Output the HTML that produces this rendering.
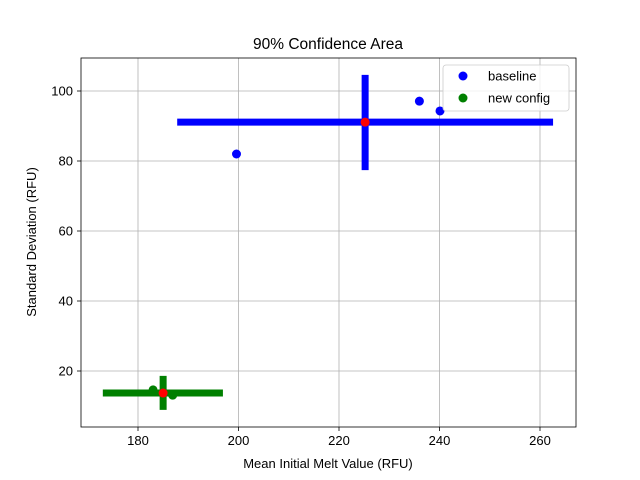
<!DOCTYPE html>
<html><head><meta charset="utf-8"><style>body{margin:0;background:#fff}svg{display:block;font-family:"Liberation Sans",sans-serif}</style></head>
<body>
<svg width="640" height="480" id="c">
<rect x="0" y="0" width="640" height="480" fill="#fff"/>
<g id="grid"></g><g id="marks"></g><g id="axes"></g>
</svg>
<script>
const xTicks=[180,200,220,240,260];
const yTicks=[20,40,60,80,100];
const baselinePts=[[199.6,82],[236.0,97.1],[240.1,94.3]];
const baselineMean=[225.2,91.1];
const baselineXRange=[187.8,262.6];
const baselineYRange=[77.4,104.6];
const newPts=[[183.0,14.6],[186.9,13.1],[185.0,13.7]];
const newMean=[185.0,13.7];
const newXRange=[173.0,196.9];
const newYRange=[8.9,18.6];
const L=81,R=576,T=58,B=427;
const sx=v=>138+(v-180)*5.025;
const sy=v=>371-(v-20)*3.5;
const NS='http://www.w3.org/2000/svg';
function mk(p,tag,a,txt){const e=document.createElementNS(NS,tag);for(const k in a)e.setAttribute(k,a[k]);if(txt!==undefined)e.textContent=txt;p.appendChild(e);return e;}
const g=document.getElementById('grid'),m=document.getElementById('marks'),ax=document.getElementById('axes');
xTicks.forEach(t=>{const x=sx(t);
 let e=mk(g,'line',{x1:x,x2:x,y1:T,y2:B,stroke:'#b0b0b0','stroke-width':0.8});
 
 
 mk(ax,'line',{x1:x,x2:x,y1:B,y2:B+4,stroke:'#000','stroke-width':0.8});
 e=mk(ax,'text',{x:x,y:B+18,'text-anchor':'middle','font-size':13},t);
 
 });
yTicks.forEach(t=>{const y=sy(t);
 let e=mk(g,'line',{x1:L,x2:R,y1:y,y2:y,stroke:'#b0b0b0','stroke-width':0.8});
 
 
 mk(ax,'line',{x1:L-4,x2:L,y1:y,y2:y,stroke:'#000','stroke-width':0.8});
 e=mk(ax,'text',{x:L-8,y:y+4.5,'text-anchor':'end','font-size':13},t);
 
 });
function group(pts,mean,xr,yr,col,name){
 let e=mk(m,'line',{x1:sx(xr[0]),x2:sx(xr[1]),y1:sy(mean[1]),y2:sy(mean[1]),stroke:col,'stroke-width':7});
 
 
 e=mk(m,'line',{x1:sx(mean[0]),x2:sx(mean[0]),y1:sy(yr[0]),y2:sy(yr[1]),stroke:col,'stroke-width':7});
 
 
 pts.forEach(p=>{e=mk(m,'circle',{cx:sx(p[0]),cy:sy(p[1]),r:4.5,fill:col});
  
  });
 e=mk(m,'circle',{cx:sx(mean[0]),cy:sy(mean[1]),r:4.5,fill:'#ff0000'});
 
 }
group(baselinePts,baselineMean,baselineXRange,baselineYRange,'#0000ff','baseline');
group(newPts,newMean,newXRange,newYRange,'#008000','new-config');
let e=mk(ax,'rect',{x:L,y:T,width:R-L,height:B-T,fill:'none',stroke:'#000','stroke-width':0.8});


e=mk(ax,'text',{x:328,y:49,'text-anchor':'middle','font-size':15.5},'90% Confidence Area');


e=mk(ax,'text',{x:328,y:468,'text-anchor':'middle','font-size':13},'Mean Initial Melt Value (RFU)');


e=mk(ax,'text',{x:36,y:242,'text-anchor':'middle','font-size':13,transform:'rotate(-90 36 242)'},'Standard Deviation (RFU)');


const lg=mk(ax,'g',{});


mk(lg,'rect',{x:443,y:65,width:126,height:46,rx:3,fill:'#fff','fill-opacity':0.8,stroke:'#ccc','stroke-width':0.8});
[['baseline','#0000ff',76],['new config','#008000',98]].forEach(([t,c,y])=>{
 const en=mk(lg,'g',{});
 
 
 mk(en,'circle',{cx:463,cy:y,r:4.5,fill:c});
 mk(en,'text',{x:488,y:y+4.5,'font-size':13},t);});
</script>
</body></html>
